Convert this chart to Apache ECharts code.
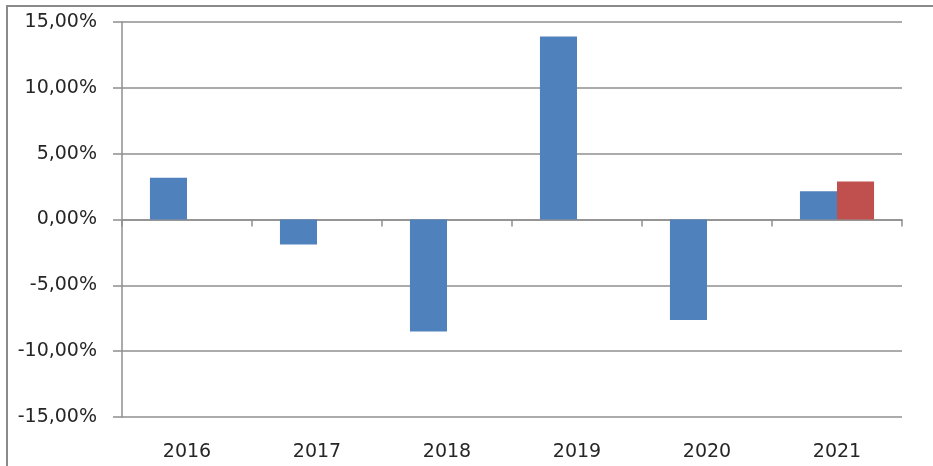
<!DOCTYPE html>
<html>
<head>
<meta charset="utf-8">
<script src="https://cdn.jsdelivr.net/npm/echarts@6/dist/echarts.min.js"></script>
<style>
html,body{margin:0;padding:0;background:#fff;}
#c{width:933px;height:466px;}
</style>
</head>
<body>
<div id="c"></div>
<script>
const categories = ['2016', '2017', '2018', '2019', '2020', '2021'];
const seriesBlue = [3.18, -1.89, -8.51, 13.89, -7.63, 2.14];
const seriesRed = [null, null, null, null, null, 2.88];
const yTicks = [-15, -10, -5, 0, 5, 10, 15];

const chart = echarts.init(document.getElementById('c'), null, {renderer: 'canvas'});
const fmt = v => v.toFixed(2).replace('.', ',') + '%';
const gridColor = '#8f8f8f';
const textStyle = {fontFamily: 'DejaVu Sans', fontSize: 19, color: '#262626'};

chart.setOption({
  animation: false,
  backgroundColor: '#ffffff',
  graphic: [{
    type: 'rect',
    shape: {x: 7, y: 6, width: 1000, height: 1000},
    style: {fill: 'none', stroke: '#8a8a8a', lineWidth: 2},
    silent: true,
    z: 0
  }],
  grid: {left: 122, right: 31, top: 22, bottom: 49, containLabel: false},
  xAxis: [{
    type: 'category',
    data: categories,
    position: 'bottom',
    axisLine: {show: false, onZero: false},
    axisTick: {show: false},
    splitLine: {show: false},
    axisLabel: Object.assign({margin: 26}, textStyle)
  }, {
    type: 'category',
    data: categories,
    position: 'bottom',
    axisLine: {show: true, onZero: true, lineStyle: {color: gridColor, width: 1.5}},
    axisTick: {show: true, length: 7, lineStyle: {color: gridColor, width: 1.5}},
    axisLabel: {show: false},
    splitLine: {show: false}
  }],
  yAxis: {
    type: 'value',
    min: yTicks[0],
    max: yTicks[yTicks.length - 1],
    interval: 5,
    axisLine: {show: true, lineStyle: {color: gridColor, width: 1.5}},
    axisTick: {show: true, length: 9, lineStyle: {color: gridColor, width: 1.5}},
    splitLine: {show: true, lineStyle: {color: gridColor, width: 1.5}},
    axisLabel: Object.assign({margin: 25, formatter: fmt}, textStyle)
  },
  series: [{
    type: 'bar',
    data: seriesBlue,
    xAxisIndex: 0,
    barGap: '0%',
    barCategoryGap: '43%',
    itemStyle: {color: '#4F81BD'}
  }, {
    type: 'bar',
    data: seriesRed,
    xAxisIndex: 0,
    barGap: '0%',
    barCategoryGap: '43%',
    itemStyle: {color: '#C0504D'}
  }]
});
</script>
</body>
</html>
